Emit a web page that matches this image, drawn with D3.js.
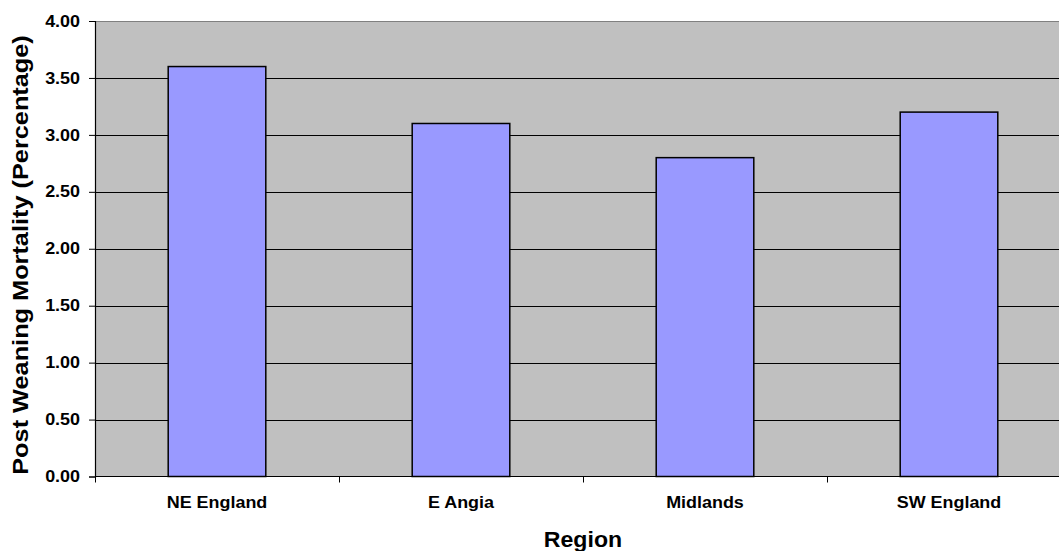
<!DOCTYPE html>
<html>
<head>
<meta charset="utf-8">
<script src="https://cdn.jsdelivr.net/npm/d3@7/dist/d3.min.js"></script>
<style>
  html, body { margin: 0; padding: 0; background: #fff; }
  svg { display: block; }
  text { font-family: "Liberation Sans", Arial, sans-serif; font-weight: bold; fill: #000; }
</style>
</head>
<body>
<svg id="chart" width="1059" height="551"></svg>
<script>
// Regional post-weaning mortality
const regions = ["NE England", "E Angia", "Midlands", "SW England"];
const mortality = [3.6, 3.1, 2.8, 3.2];
const yTicks = [0, 0.5, 1, 1.5, 2, 2.5, 3, 3.5, 4];

const svg = d3.select("#chart");
const plot = { left: 95, right: 1071, top: 21, bottom: 476.5 };

// widen glyphs slightly to mimic the wide bold face
function widen(sel, factor) {
  sel.each(function () {
    const w = this.getComputedTextLength();
    d3.select(this).attr("textLength", w * factor).attr("lengthAdjust", "spacingAndGlyphs");
  });
}

const x = d3.scaleBand()
  .domain(regions)
  .range([plot.left, plot.right])
  .paddingInner(0.6)
  .paddingOuter(0.3);

const y = d3.scaleLinear().domain([0, 4]).range([plot.bottom, plot.top]);

// plot background
svg.append("rect")
  .attr("x", plot.left).attr("y", plot.top)
  .attr("width", plot.right - plot.left).attr("height", plot.bottom - plot.top)
  .attr("fill", "#c0c0c0");

// top border
svg.append("line")
  .attr("x1", plot.left).attr("x2", plot.right)
  .attr("y1", plot.top + 0.5).attr("y2", plot.top + 0.5)
  .attr("stroke", "#808080").attr("stroke-width", 1);

// horizontal gridlines
svg.append("g").selectAll("line")
  .data(yTicks.filter(d => d > 0 && d < 4))
  .join("line")
  .attr("x1", plot.left).attr("x2", plot.right)
  .attr("y1", d => Math.round(y(d)) + 0.5).attr("y2", d => Math.round(y(d)) + 0.5)
  .attr("stroke", "#000").attr("stroke-width", 1);

// bars
svg.append("g").selectAll("rect")
  .data(regions.map((r, i) => ({ r, v: mortality[i] })))
  .join("rect")
  .attr("x", d => x(d.r))
  .attr("y", d => y(d.v))
  .attr("width", x.bandwidth())
  .attr("height", d => y(0) - y(d.v))
  .attr("fill", "#9999ff")
  .attr("stroke", "#000")
  .attr("stroke-width", 1.5);

// y axis
const yAxis = d3.axisLeft(y)
  .tickValues(yTicks)
  .tickFormat(d3.format(".2f"))
  .tickSize(6)
  .tickPadding(9);
const gy = svg.append("g")
  .attr("transform", `translate(${plot.left},0)`)
  .call(yAxis);
gy.select(".domain").attr("stroke", "#000").attr("stroke-width", 1.2);
gy.selectAll(".tick line").attr("stroke", "#000");
gy.selectAll(".tick text")
  .attr("font-size", 16).attr("font-family", "Liberation Sans, Arial, sans-serif")
  .attr("font-weight", "bold").attr("fill", "#000")
  .call(widen, 1.12);

// x axis with ticks at category boundaries
const step = x.step();
const boundaries = d3.range(regions.length + 1).map(i => plot.left + i * step);
svg.append("line")
  .attr("x1", plot.left).attr("x2", plot.right)
  .attr("y1", plot.bottom).attr("y2", plot.bottom)
  .attr("stroke", "#000").attr("stroke-width", 1.2);
svg.append("g").selectAll("line")
  .data(boundaries)
  .join("line")
  .attr("x1", d => Math.round(d) + 0.5).attr("x2", d => Math.round(d) + 0.5)
  .attr("y1", plot.bottom).attr("y2", plot.bottom + 6)
  .attr("stroke", "#000");

svg.append("g").selectAll("text")
  .data(regions)
  .join("text")
  .attr("x", d => x(d) + x.bandwidth() / 2)
  .attr("y", 508)
  .attr("text-anchor", "middle")
  .attr("font-size", 16)
  .text(d => d)
  .call(widen, 1.12);

// axis titles
svg.append("text")
  .attr("x", (plot.left + plot.left + 4 * step) / 2)
  .attr("y", 547)
  .attr("text-anchor", "middle")
  .attr("font-size", 22)
  .text("Region")
  .call(widen, 1.05);

svg.append("text")
  .attr("transform", "translate(28,255) rotate(-90)")
  .attr("text-anchor", "middle")
  .attr("font-size", 22)
  .text("Post Weaning Mortality (Percentage)")
  .call(widen, 1.15);
</script>
</body>
</html>
